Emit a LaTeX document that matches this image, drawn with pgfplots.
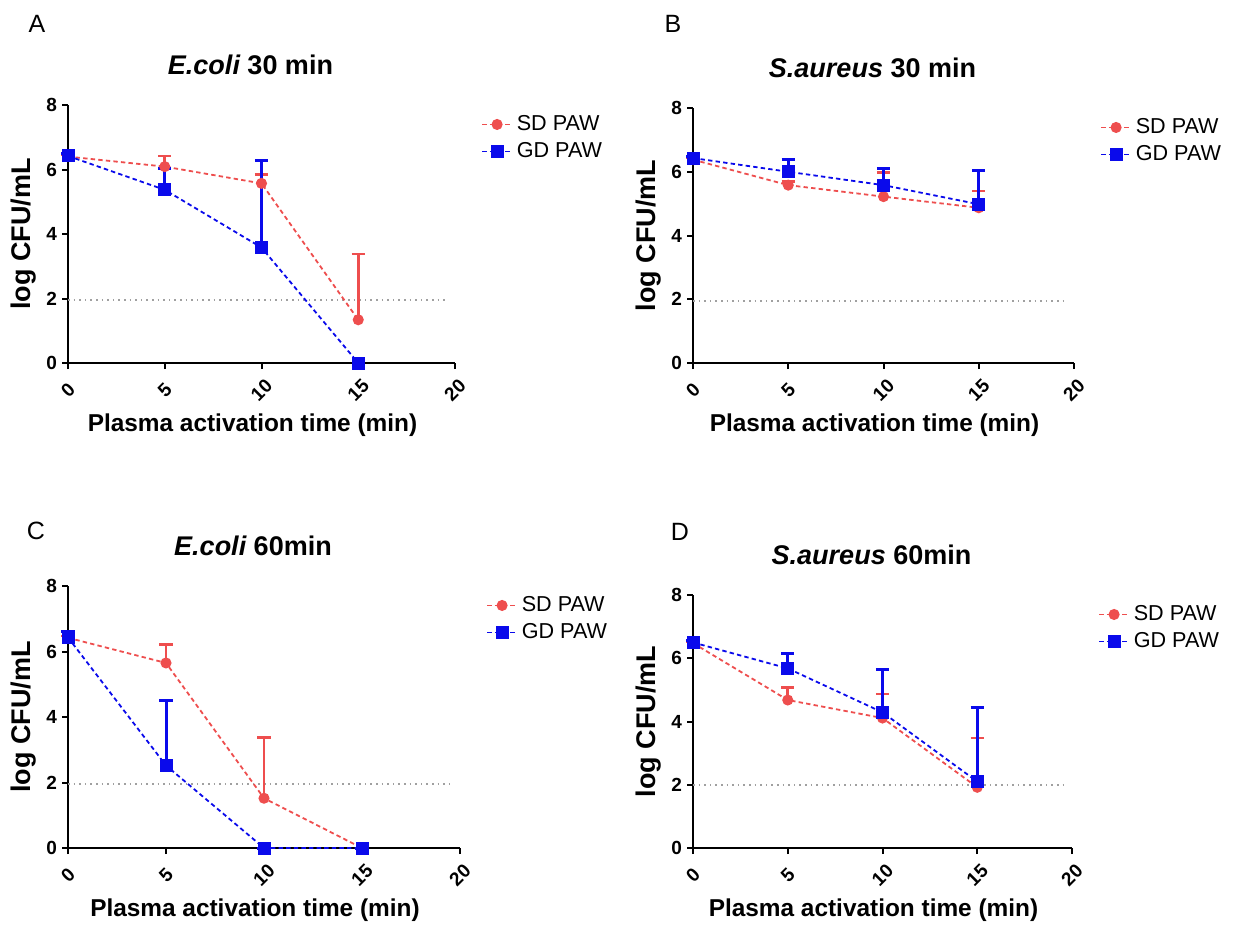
\documentclass[border=0pt]{standalone}
\usepackage{fontspec}
\setmainfont{Liberation Sans}
\usepackage{pgfplots}
\pgfplotsset{compat=1.18}

\definecolor{sdred}{RGB}{238,78,78}
\definecolor{gdblue}{RGB}{10,10,235}
\definecolor{lodgray}{RGB}{160,160,160}

\pgfplotsset{
  panel/.style={
    scale only axis,
    clip=false,
    xmin=0, xmax=20, ymin=0, ymax=8,
    xtick={0,5,10,15,20}, ytick={0,2,4,6,8},
    axis lines=left,
    axis line style={-, line width=1pt},
    tick style={black, line width=1pt},
    major tick length=3pt,
    tick align=outside,
    /pgf/number format/assume math mode=true,
    tick label style={font=\bfseries\fontsize{9.5}{11}\selectfont},
    xticklabel style={rotate=45, anchor=center},
    xticklabel shift=10.5pt,
    yticklabel style={xshift=1pt},
    xlabel={Plasma activation time (min)},
    ylabel={log CFU/mL},
    xlabel style={font=\bfseries\fontsize{12.2}{14}\selectfont,
      at={(axis description cs:0.5,0)}, anchor=base, xshift=-4.5pt, yshift=-34pt},
    ylabel style={font=\bfseries\fontsize{13.5}{15}\selectfont, yshift=-2pt},
    title style={font=\bfseries\fontsize{13.5}{15}\selectfont,
      at={(axis description cs:0.5,1)}, anchor=base, xshift=-5.5pt, yshift=9.5pt},
    legend style={draw=none, at={(1,1)}, anchor=north west, xshift=10pt, yshift=-1pt,
      font=\fontsize{10.8}{12}\selectfont, row sep=0.5pt},
    legend cell align=left,
    legend image code/.code={\draw[#1, mark repeat=2, mark phase=2]
      plot coordinates {(0cm,0cm) (0.26cm,0cm) (0.52cm,0cm)};},
  },
  sd/.style={sdred, line width=0.9pt, dash pattern=on 2.2pt off 1.6pt,
    mark=*, mark size=2.3pt, mark options={solid},
    error bars/.cd, y dir=plus, y explicit,
    error bar style={line width=1.3pt, solid, sdred},
    error mark options={rotate=90, mark size=3.3pt, line width=1.3pt, sdred}},
  gd/.style={gdblue, line width=0.9pt, dash pattern=on 2.2pt off 1.6pt,
    mark=square*, mark size=2.8pt, mark options={solid},
    error bars/.cd, y dir=plus, y explicit,
    error bar style={line width=1.5pt, solid, gdblue},
    error mark options={rotate=90, mark size=3.3pt, line width=1.5pt, gdblue}},
  lod/.style={lodgray, line width=0.8pt, dotted, forget plot},
}

\begin{document}
\begin{tikzpicture}
\path (0pt,0pt) rectangle (618pt,-462pt);

\node[font=\fontsize{12.5}{14}\selectfont] at (18.5pt,-12pt) {A};
\node[font=\fontsize{12.5}{14}\selectfont] at (336.5pt,-12pt) {B};
\node[font=\fontsize{12.5}{14}\selectfont] at (18pt,-265.5pt) {C};
\node[font=\fontsize{12.5}{14}\selectfont] at (340pt,-266pt) {D};

% A
\begin{axis}[panel, at={(34pt,-181.5pt)}, anchor=south west,
  width=193.5pt, height=129pt, title={{\itshape E.coli} 30 min}]
\addplot[lod] coordinates {(0,1.95) (19.6,1.95)};
\addplot[sd] coordinates {(0,6.40) +- (0,0.05) (5,6.09) +- (0,0.33) (10,5.57) +- (0,0.28) (15,1.34) +- (0,2.04)};
\addlegendentry{SD PAW}
\addplot[gd] coordinates {(0,6.42) +- (0,0.08) (5,5.37) +- (0,0.67) (10,3.58) +- (0,2.69) (15,0) +- (0,0)};
\addlegendentry{GD PAW}
\end{axis}

% B
\begin{axis}[panel, at={(346.5pt,-181.5pt)}, anchor=south west,
  width=190.5pt, height=127.5pt, title={{\itshape S.aureus} 30 min}]
\addplot[lod] coordinates {(0,1.95) (19.6,1.95)};
\addplot[sd] coordinates {(0,6.38) +- (0,0.05) (5,5.58) +- (0,0.12) (10,5.22) +- (0,0.76) (15,4.87) +- (0,0.53)};
\addlegendentry{SD PAW}
\addplot[gd] coordinates {(0,6.43) +- (0,0.05) (5,6.00) +- (0,0.40) (10,5.58) +- (0,0.52) (15,4.98) +- (0,1.07)};
\addlegendentry{GD PAW}
\end{axis}

% C
\begin{axis}[panel, at={(34pt,-424pt)}, anchor=south west,
  width=196pt, height=131pt, title={{\itshape E.coli} 60min}]
\addplot[lod] coordinates {(0,1.95) (19.6,1.95)};
\addplot[sd] coordinates {(0,6.42) +- (0,0.05) (5,5.65) +- (0,0.56) (10,1.52) +- (0,1.85) (15,0) +- (0,0)};
\addlegendentry{SD PAW}
\addplot[gd] coordinates {(0,6.43) +- (0,0.19) (5,2.52) +- (0,1.97) (10,0) +- (0,0) (15,0) +- (0,0)};
\addlegendentry{GD PAW}
\end{axis}

% D
\begin{axis}[panel, at={(346.5pt,-424pt)}, anchor=south west,
  width=189.5pt, height=126.5pt, title={{\itshape S.aureus} 60min}]
\addplot[lod] coordinates {(0,2.0) (19.6,2.0)};
\addplot[sd] coordinates {(0,6.48) +- (0,0.03) (5,4.68) +- (0,0.40) (10,4.11) +- (0,0.76) (15,1.92) +- (0,1.56)};
\addlegendentry{SD PAW}
\addplot[gd] coordinates {(0,6.50) +- (0,0.05) (5,5.68) +- (0,0.47) (10,4.29) +- (0,1.37) (15,2.10) +- (0,2.35)};
\addlegendentry{GD PAW}
\end{axis}
\end{tikzpicture}
\end{document}
